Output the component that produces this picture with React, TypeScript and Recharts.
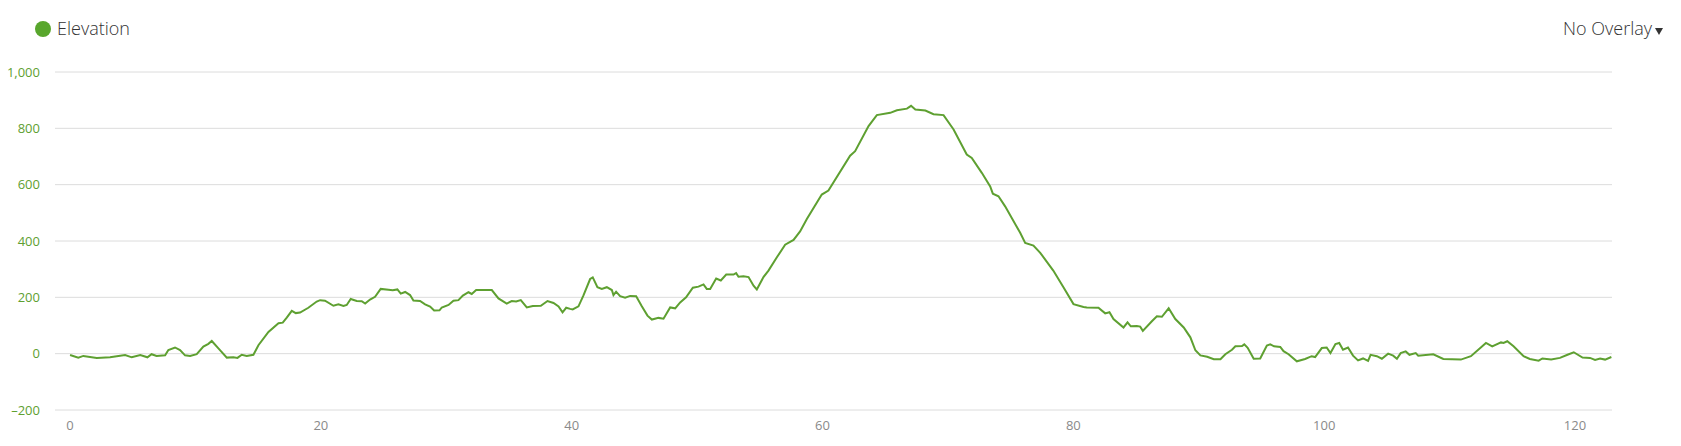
import React from 'react';
import { LineChart, Line, XAxis, YAxis, CartesianGrid } from 'recharts';

// distance along the route (km)
const distanceKm = [
  0, 0.66, 1.06, 2.13, 3.19, 4.39, 4.92, 5.6, 6.17, 6.5, 6.9, 7.58, 7.84, 8.37, 8.77, 9.17, 9.57, 10.1, 10.63, 11.03,
  11.3, 11.83, 12.5, 13.03, 13.35, 13.69, 14.09, 14.62, 15.02, 15.82, 16.62, 16.96, 17.28, 17.68, 18.0, 18.34, 19.0, 19.67,
  19.94, 20.33, 21.0, 21.4, 21.8, 22.06, 22.38, 22.86, 23.26, 23.53, 23.92, 24.32, 24.77, 25.39, 25.73, 26.1, 26.37, 26.72,
  27.11, 27.38, 27.91, 28.31, 28.71, 29.03, 29.46, 29.64, 30.18, 30.57, 30.97, 31.32, 31.77, 32.03, 32.38, 32.96, 33.63,
  34.16, 34.82, 35.22, 35.57, 35.94, 36.42, 36.9, 37.54, 38.07, 38.55, 38.95, 39.27, 39.56, 39.88,
  40.08, 40.54, 40.93, 41.47, 41.68, 42.05, 42.4, 42.8, 43.2, 43.33, 43.54, 43.86, 44.26, 44.66, 45.14, 45.59, 46.04,
  46.39, 46.92, 47.32, 47.85, 48.25, 48.65, 49.12, 49.66, 50.11, 50.51, 50.77, 51.04, 51.52, 51.89, 52.32, 52.9, 53.11,
  53.3, 53.7, 54.1, 54.5, 54.76, 55.29, 55.69, 56.36, 57.02, 57.69,
  58.21, 58.75, 59.94, 60.47, 62.2, 62.6, 63.67, 64.33, 65.4, 65.93, 66.73, 67.06, 67.4, 68.2, 68.85, 69.65, 70.45,
  71.5, 71.9, 72.7, 73.37, 73.58, 74.03, 74.56, 75.76, 76.16, 76.82, 77.36,
  78.4, 79.21, 80.01, 80.81, 81.07, 82.0, 82.54, 82.88, 83.2, 84.0, 84.32, 84.58, 85.06, 85.33, 85.54, 86.26, 86.66,
  87.06, 87.6, 88.13, 88.8, 89.33, 89.73, 90.13, 90.67, 91.2, 91.73, 92.12, 92.65, 92.92, 93.45, 93.63, 93.9, 94.38,
  94.9, 95.43, 95.7, 96.0, 96.5, 96.76, 97.16,
  97.82, 98.48, 99.0, 99.28, 99.81, 100.2, 100.5, 100.9, 101.2, 101.5, 101.9, 102.3, 102.7, 103.1, 103.5, 103.7, 104.2,
  104.6, 105.1, 105.5, 105.8, 106.1, 106.5, 106.8, 107.3, 107.5, 108.7, 109.5, 110.9, 111.7, 112.9, 113.4, 114.1, 114.3,
  114.6, 115.1, 115.9, 116.4, 117.1, 117.4, 118.1, 118.8, 119.4, 119.9, 120.6, 121.2, 121.6, 122.0, 122.4, 122.9,
];

// elevation (m)
const elevation = [
  -5, -14, -8, -15, -13, -5, -13, -5, -13, -2, -8, -6, 13, 22, 13, -6, -8, -2, 25, 35,
  45, 19, -14, -13, -15, -4, -8, -4, 30, 77, 108, 110, 128, 152, 144, 146, 163, 185,
  190, 188, 170, 175, 169, 173, 194, 187, 186, 178, 192, 202, 230, 227, 225, 228, 213, 219,
  208, 189, 187, 175, 167, 153, 154, 164, 173, 188, 190, 206, 218, 212, 226, 226, 226,
  196, 178, 187, 185, 190, 164, 169, 170, 187, 180, 168, 147, 163, 159,
  157, 168, 206, 265, 271, 236, 230, 236, 226, 208, 220, 204, 199, 205, 204, 168, 135,
  121, 127, 124, 164, 161, 182, 200, 234, 238, 246, 230, 230, 267, 260, 281, 281, 286,
  273, 275, 272, 241, 228, 272, 295, 342, 387, 404,
  434, 478, 565, 579, 703, 719, 808, 847, 855, 864, 870, 880, 867, 863, 850, 847, 796,
  707, 695, 642, 594, 568, 559, 523, 429, 393, 384, 358,
  295, 236, 176, 166, 164, 163, 143, 147, 123, 93, 111, 97, 98, 96, 81, 115, 133,
  131, 161, 123, 93, 58, 12, -6, -11, -20, -20, -2, 14, 26, 27, 33, 21, -18,
  -17, 29, 33, 26, 24, 9, -2,
  -27, -19, -9, -12, 20, 22, 2, 34, 38, 14, 22, -7, -24, -17, -26, -4, -9,
  -18, 0, -7, -18, 2, 8, -4, 2, -7, -2, -19, -21, -9, 38, 26, 40, 38,
  44, 26, -9, -19, -25, -17, -21, -15, -4, 5, -14, -15, -22, -17, -21, -12,
];

const xTicks = [0, 20, 40, 60, 80, 100, 120];
const yTicks = [-200, 0, 200, 400, 600, 800, 1000];

const seriesName = 'Elevation';
const overlayLabel = 'No Overlay';

const data = distanceKm.map((d, i) => ({ distance: d, elevation: elevation[i] }));

const green = '#5ea031';
const font = '"Open Sans", sans-serif';

const formatY = (v: number) => v.toLocaleString('en-US').replace('-', '–');

export default function App() {
  return (
    <div style={{ position: 'absolute', left: 0, top: 0, width: 1681, height: 446, fontFamily: font, background: '#fff' }}>
      {/* legend */}
      <div style={{ position: 'absolute', left: 35, top: 21, width: 16, height: 16, borderRadius: 8, background: '#58a62c' }} />
      <div style={{ position: 'absolute', left: 57, top: 16, fontSize: 18, fontWeight: 300, lineHeight: 'normal', color: '#333' }}>
        {seriesName}
      </div>

      {/* overlay dropdown */}
      <div style={{ position: 'absolute', right: 29, top: 16, fontSize: 18, fontWeight: 300, lineHeight: 'normal', color: '#333', whiteSpace: 'nowrap' }}>
        {overlayLabel}
      </div>
      <div
        style={{
          position: 'absolute', left: 1655, top: 28, width: 0, height: 0,
          borderLeft: '4px solid transparent', borderRight: '4px solid transparent', borderTop: '7px solid #333',
        }}
      />

      <LineChart width={1681} height={446} data={data} margin={{ top: 72, right: 69, bottom: 0, left: 0 }}>
        <CartesianGrid vertical={false} stroke="#dcdcdc" />
        <XAxis
          type="number"
          dataKey="distance"
          domain={[-1.2, 122.95]}
          ticks={xTicks}
          axisLine={false}
          tickLine={false}
          tickMargin={5}
          height={36}
          tick={{ fill: '#8a8a8a', fontSize: 13, fontFamily: font }}
        />
        <YAxis
          type="number"
          domain={[-200, 1000]}
          ticks={yTicks}
          axisLine={false}
          tickLine={false}
          tickMargin={9}
          width={55}
          tickFormatter={formatY}
          tick={{ fill: green, fontSize: 13, fontFamily: font }}
        />
        <Line
          type="linear"
          dataKey="elevation"
          stroke={green}
          strokeWidth={2}
          dot={false}
          isAnimationActive={false}
        />
      </LineChart>
    </div>
  );
}
